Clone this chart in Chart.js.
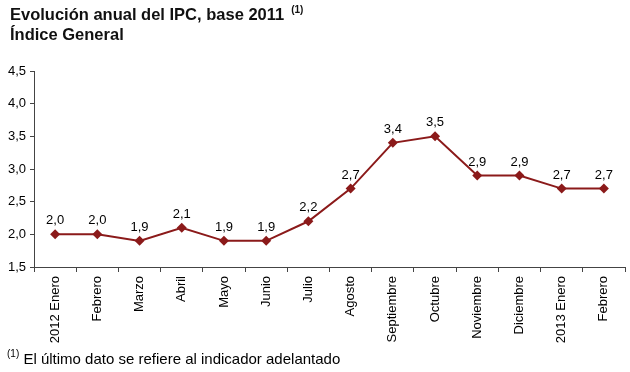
<!DOCTYPE html>
<html>
<head>
<meta charset="utf-8">
<script src="https://cdn.jsdelivr.net/npm/chart.js@4/dist/chart.umd.min.js"></script>
<style>
  html, body { margin: 0; padding: 0; background: #fff; }
  #wrap { position: relative; width: 630px; height: 372px; font-family: "Liberation Sans", Arial, sans-serif; color: #000; }
  #chart { position: absolute; left: 0; top: 0; }
  .title { position: absolute; left: 10px; font-weight: bold; font-size: 16.5px; line-height: 18px; white-space: nowrap; color: #111; }
  .sup { position: relative; top: -7px; font-size: 10px; line-height: 0; }
  .title .sup { margin-left: 7px; }
  .note { position: absolute; left: 7px; top: 350px; font-size: 15px; line-height: 18px; white-space: nowrap; }
</style>
</head>
<body>
<div id="wrap">
  <canvas id="chart" width="630" height="372"></canvas>
  <div class="title" style="top:5px">Evolución anual del IPC, base 2011<span class="sup">(1)</span></div>
  <div class="title" style="top:25px">Índice General</div>
  <div class="note"><span class="sup">(1)</span> El último dato se refiere al indicador adelantado</div>
</div>
<script>
const categories = ["2012 Enero","Febrero","Marzo","Abril","Mayo","Junio","Julio","Agosto","Septiembre","Octubre","Noviembre","Diciembre","2013 Enero","Febrero"];
const ipcValues = [2.0, 2.0, 1.9, 2.1, 1.9, 1.9, 2.2, 2.7, 3.4, 3.5, 2.9, 2.9, 2.7, 2.7];
const yMin = 1.5, yMax = 4.5, yStep = 0.5;

const fmt = v => v.toFixed(1).replace('.', ',');

const valueLabels = {
  id: 'valueLabels',
  afterDatasetsDraw(chart) {
    const ctx = chart.ctx;
    const meta = chart.getDatasetMeta(0);
    ctx.save();
    ctx.font = '13px "Liberation Sans", Arial, sans-serif';
    ctx.fillStyle = '#000';
    ctx.textAlign = 'center';
    ctx.textBaseline = 'bottom';
    meta.data.forEach((pt, i) => {
      ctx.fillText(fmt(ipcValues[i]), pt.x, pt.y - 7);
    });
    ctx.restore();
  }
};

new Chart(document.getElementById('chart'), {
  type: 'line',
  data: {
    labels: categories,
    datasets: [{
      data: ipcValues,
      borderColor: '#8b1a1a',
      backgroundColor: '#8b1a1a',
      borderWidth: 2,
      pointStyle: 'rectRot',
      pointRadius: 5,
      pointBorderWidth: 0,
      tension: 0
    }]
  },
  options: {
    responsive: false,
    animation: false,
    devicePixelRatio: 1,
    layout: { padding: { top: 71, right: 5, left: 0, bottom: 0 } },
    plugins: { legend: { display: false }, tooltip: { enabled: false }, title: { display: false } },
    scales: {
      x: {
        offset: true,
        grid: { offset: true, drawOnChartArea: false, drawTicks: true, tickLength: 5, color: '#444' },
        border: { display: true, color: '#444', width: 1 },
        ticks: {
          autoSkip: false, maxRotation: 90, minRotation: 90,
          color: '#000', padding: 4,
          font: { family: '"Liberation Sans", Arial, sans-serif', size: 13 }
        },
        afterFit(s) { s.height = 105; }
      },
      y: {
        min: yMin, max: yMax,
        grid: { drawOnChartArea: false, drawTicks: true, tickLength: 4, color: '#444' },
        border: { display: true, color: '#444', width: 1 },
        ticks: {
          stepSize: yStep, color: '#000', padding: 4,
          font: { family: '"Liberation Sans", Arial, sans-serif', size: 13 },
          callback: v => fmt(v)
        },
        afterFit(s) { s.width = 34; }
      }
    }
  },
  plugins: [valueLabels]
});
</script>
</body>
</html>
